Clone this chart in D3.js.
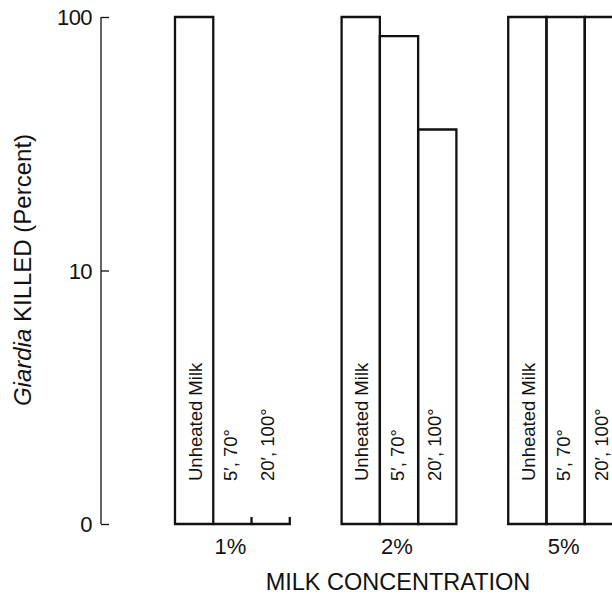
<!DOCTYPE html>
<html>
<head>
<meta charset="utf-8">
<script src="https://cdn.jsdelivr.net/npm/d3@7"></script>
<style>
  body { margin: 0; background: #fff; }
  svg { display: block; font-family: "Liberation Sans", Arial, Helvetica, sans-serif; }
</style>
</head>
<body>
<div id="chart"></div>
<script>
// ---------- data ----------
const groups = ["1%", "2%", "5%"];
const treatments = ["Unheated Milk", "5\u2032, 70\u00b0", "20\u2032, 100\u00b0"];
// percent killed, per group, in treatment order (0 = nothing killed)
const killed1 = [100, 0, 0];
const killed2 = [100, 84, 36];
const killed5 = [100, 100, 100];
const tickValues = [1, 10, 100];
const tickLabels = ["0", "10", "100"];

const rows = [];
[killed1, killed2, killed5].forEach((vals, gi) => {
  vals.forEach((v, ti) => rows.push({ group: groups[gi], treatment: treatments[ti], ti: ti, value: v }));
});

// ---------- layout ----------
const width = 612, height = 602;
const svg = d3.select("#chart").append("svg")
  .attr("width", width).attr("height", height);

const y = d3.scaleLog().domain([1, 100]).range([524, 17]);
const yv = (v) => (v <= 1 ? y(1) : y(v)); // "0" sits at the bottom of the log axis

const x0 = d3.scaleBand().domain(groups).range([175, 623])
  .paddingInner(0.311).paddingOuter(0);
const x1 = d3.scaleBand().domain(treatments).range([0, x0.bandwidth()]);

// ---------- y axis ----------
const axisX = 101;
const yAxis = d3.axisRight(y)
  .tickValues(tickValues)
  .tickFormat((d, i) => tickLabels[i])
  .tickSize(8)
  .tickSizeOuter(0);

const ag = svg.append("g").attr("transform", `translate(${axisX},0)`).call(yAxis);
ag.select(".domain").attr("stroke", "#111").attr("stroke-width", 1.3)
  .attr("d", `M0,${y(100)}V${y(1)}`);
ag.selectAll(".tick line").attr("stroke", "#111").attr("stroke-width", 1.3);
ag.selectAll(".tick text")
  .attr("x", -9).attr("dy", "0.36em")
  .attr("text-anchor", "end")
  .attr("fill", "#111")
  .style("font-size", "22px")
  .style("letter-spacing", "-0.6px");

svg.append("text")
  .attr("transform", `translate(31,270) rotate(-90)`)
  .attr("text-anchor", "middle")
  .attr("fill", "#111")
  .style("font-size", "24px")
  .call(t => {
    t.append("tspan").style("font-style", "italic").text("Giardia");
    t.append("tspan").text(" KILLED (Percent)");
  });

// ---------- bars ----------
const bars = svg.append("g")
  .attr("fill", "none")
  .attr("stroke", "#111")
  .attr("stroke-width", 2.3)
  .attr("stroke-linejoin", "miter");

bars.selectAll("path")
  .data(rows)
  .join("path")
  .attr("d", d => {
    const xa = x0(d.group) + x1(d.treatment);
    const xb = xa + x1.bandwidth();
    const base = y(1);
    if (d.value <= 1) {
      // empty bar: just the baseline with a small end tick
      return `M${xa},${base}H${xb}V${base - 7}`;
    }
    const top = yv(d.value);
    return `M${xa},${base}V${top}H${xb}V${base}Z`;
  });

// labels inside the bars
const labelShift = [1, -2, -3];
svg.append("g")
  .selectAll("text")
  .data(rows)
  .join("text")
  .attr("transform", d => {
    const cx = x0(d.group) + x1(d.treatment) + x1.bandwidth() / 2 + labelShift[d.ti];
    return `translate(${cx},481) rotate(-90)`;
  })
  .attr("dy", "0.36em")
  .attr("fill", "#111")
  .style("font-size", "18.5px")
  .text(d => d.treatment);

// ---------- x labels ----------
svg.append("g")
  .selectAll("text")
  .data(groups)
  .join("text")
  .attr("x", d => x0(d) + x0.bandwidth() / 2 - 2)
  .attr("y", 554)
  .attr("text-anchor", "middle")
  .attr("fill", "#111")
  .style("font-size", "22px")
  .text(d => d);

svg.append("text")
  .attr("x", 398)
  .attr("y", 590)
  .attr("text-anchor", "middle")
  .attr("fill", "#111")
  .style("font-size", "23.5px")
  .text("MILK CONCENTRATION");
</script>
</body>
</html>
